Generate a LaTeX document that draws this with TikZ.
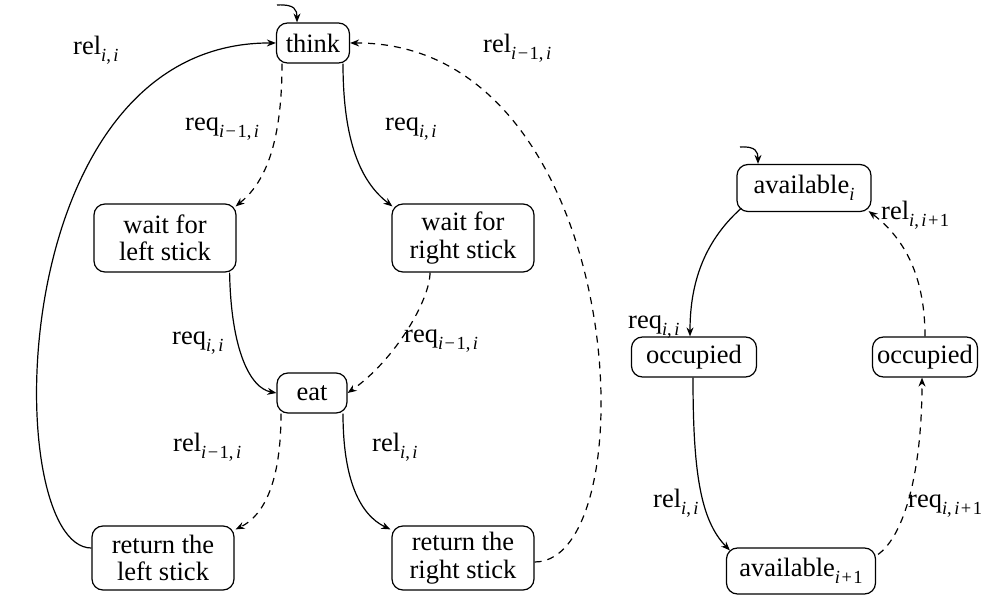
\documentclass[tikz,border=0pt]{standalone}
\usepackage{fontspec}
\setmainfont{Liberation Serif}
\newfontfamily\timesfont{Liberation Serif}
\usetikzlibrary{arrows.meta,calc}
\newcommand\subsc[1]{\raisebox{-0.25em}{\fontsize{18.5}{18.5}\selectfont #1}}
\newcommand\ii{\textit{i}}
\newcommand\cm{,\kern2.5pt}
\newcommand\mn{\kern1.5pt−\kern1.5pt}
\newcommand\pl{\kern1.5pt+\kern1.5pt}
\begin{document}
\begin{tikzpicture}[x=1pt,y=-1pt,
  state/.style={draw,rounded corners=11pt,line width=1.2pt,inner sep=0pt,align=center,
    font={\timesfont\fontsize{26.5}{27.5}\selectfont}},
  lbl/.style={anchor=base west,inner sep=0pt,font={\timesfont\fontsize{26.5}{27.5}\selectfont}},
  edge/.style={line width=1.2pt,-{Stealth[length=9pt,width=7pt]}},
  dedge/.style={edge,dash pattern=on 7pt off 6pt}]
\useasboundingbox (0,0) rectangle (989,601);
% left automaton
\node[state,minimum width=73pt,minimum height=40pt] (think) at (313,43) {think};
\node[state,minimum width=142pt,minimum height=68pt] (wl) at (165,238) {wait for\\left stick};
\node[state,minimum width=142pt,minimum height=68pt] (wr) at (463,238) {wait for\\right stick};
\node[state,minimum width=70pt,minimum height=40pt] (eat) at (312,393) {eat};
\node[state,minimum width=142pt,minimum height=64pt] (rl) at (163,558) {return the\\left stick};
\node[state,minimum width=142pt,minimum height=64pt] (rr) at (463,558) {return the\\right stick};
% right automaton
\node[state,minimum width=134pt,minimum height=47pt] (av) at (804,188) {available\subsc{\ii}};
\node[state,minimum width=125pt,minimum height=40pt] (ol) at (694,357) {occupied};
\node[state,minimum width=105pt,minimum height=40pt] (or) at (925,357) {occupied};
\node[state,minimum width=149pt,minimum height=46pt] (av1) at (801,571) {available\subsc{\ii\pl1}};
% initial markers
\coordinate (ithink) at (277,5);
\coordinate (iav) at (740,147);
\draw[edge] (ithink) .. controls (295,4) and (297,10) .. ($(think.north)+(-16,0)$);
\draw[edge] (iav) .. controls (756,146) and (758,152) .. ($(av.north)+(-46,0)$);
% left edges
\draw[edge] ($(think.south)+(30,0)$) .. controls (343,150) and (365,185) .. ($(wr.north west)+(1,3)$);
\draw[dedge] ($(think.south)+(-31,0)$) .. controls (282,150) and (262,185) .. ($(wl.north east)+(-1,3)$);
\draw[edge] ($(wl.south east)+(-7,0)$) .. controls (231,350) and (250,388) .. (eat.west);
\draw[dedge] ($(wr.south)+(-33,0)$) .. controls (430,300) and (395,360) .. (eat.east);
\draw[dedge] ($(eat.south)+(-31,0)$) .. controls (281,480) and (265,515) .. ($(rl.north east)+(1,4)$);
\draw[edge] ($(eat.south)+(31,0)$) .. controls (343,480) and (360,515) .. ($(rr.north west)+(-1,4)$);
\draw[edge] ($(rl.west)+(0,-10)$) .. controls (0,548) and (0,42) .. (think.west);
\draw[dedge] ($(rr.east)+(0,4)$) .. controls (650,562) and (630,42) .. (think.east);
% right edges
\draw[edge] ($(av.south west)+(5,-4)$) .. controls (700,245) and (690,290) .. ($(ol.north)+(-4,0)$);
\draw[edge] ($(ol.south)+(-1,0)$) .. controls (693,470) and (700,520) .. ($(av1.north west)+(4,3)$);
\draw[dedge] ($(av1.north east)+(2,7)$) .. controls (905,535) and (922,470) .. ($(or.south)+(-3,0)$);
\draw[dedge] (or.north) .. controls (925,270) and (900,235) .. ($(av.south east)+(-3,-1)$);
% labels
\node[lbl] (l1) at (73,55) {rel\subsc{\ii\cm\ii}};
\node[lbl] (l2) at (483,53) {rel\subsc{\ii\mn1\cm\ii}};
\node[lbl] (l3) at (185,131) {req\subsc{\ii\mn1\cm\ii}};
\node[lbl] (l4) at (385,131) {req\subsc{\ii\cm\ii}};
\node[lbl] (l5) at (172,345) {req\subsc{\ii\cm\ii}};
\node[lbl] (l6) at (404,343) {req\subsc{\ii\mn1\cm\ii}};
\node[lbl] (l7) at (173,452) {rel\subsc{\ii\mn1\cm\ii}};
\node[lbl] (l8) at (372,452) {rel\subsc{\ii\cm\ii}};
\node[lbl] (l9) at (628,329) {req\subsc{\ii\cm\ii}};
\node[lbl] (l10) at (653,508) {rel\subsc{\ii\cm\ii}};
\node[lbl] (l11) at (908,508) {req\subsc{\ii\cm\ii\pl1}};
\node[lbl] (l12) at (881,220) {rel\subsc{\ii\cm\ii\pl1}};
\end{tikzpicture}
\end{document}
